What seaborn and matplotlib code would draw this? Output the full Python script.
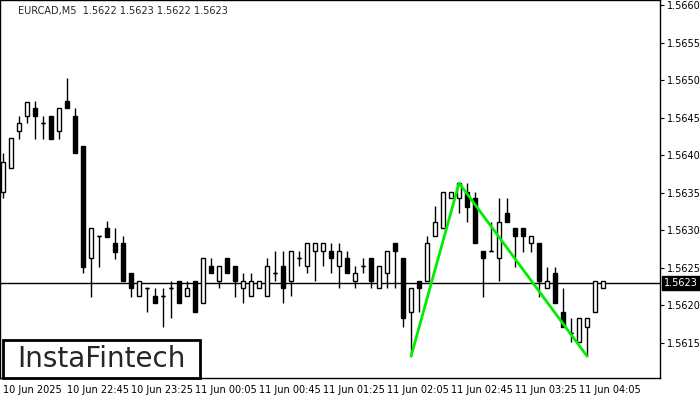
import matplotlib
matplotlib.use("Agg")
import matplotlib.pyplot as plt
import matplotlib.patches as mpatches
import seaborn as sns
import numpy as np
import pandas as pd

opens = [1.56351,1.56383,1.56432,1.56452,1.56463,1.56443,1.56452,1.56432,1.56472,1.56452,
         1.56412,1.56263,1.56292,1.56303,1.56283,1.56283,1.56243,1.56212,1.56223,1.56212,
         1.56212,1.56223,1.56232,1.56212,1.56232,1.56203,1.56252,1.56232,1.56263,1.56252,
         1.56223,1.56212,1.56223,1.56212,1.56243,1.56252,1.56232,1.56263,1.56252,1.56272,
         1.56272,1.56272,1.56252,1.56263,1.56232,1.56252,1.56263,1.56223,1.56243,1.56283,
         1.56263,1.56191,1.56232,1.56232,1.56292,1.56303,1.56343,1.56343,1.56351,1.56343,
         1.56272,1.56272,1.56263,1.56323,1.56303,1.56303,1.56283,1.56283,1.56223,1.56243,
         1.56191,1.56163,1.56151,1.56171,1.56191,1.56223]
highs = [1.56403,1.56423,1.56452,1.56471,1.56472,1.56452,1.56452,1.56463,1.56503,1.56463,
         1.56412,1.56303,1.56292,1.56312,1.56303,1.56292,1.56243,1.56232,1.56223,1.56223,
         1.56223,1.56232,1.56232,1.56232,1.56232,1.56263,1.56263,1.56252,1.56263,1.56252,
         1.56243,1.56243,1.56232,1.56263,1.56272,1.56272,1.56272,1.56272,1.56283,1.56283,
         1.56283,1.56283,1.56283,1.56272,1.56252,1.56263,1.56263,1.56252,1.56272,1.56283,
         1.56263,1.56223,1.56232,1.56292,1.56332,1.56351,1.56351,1.56363,1.56363,1.56351,
         1.56272,1.56311,1.56343,1.56343,1.56303,1.56303,1.56292,1.56283,1.56251,1.56251,
         1.56223,1.56183,1.56183,1.56183,1.56232,1.56232]
lows = [1.56343,1.56383,1.56421,1.56443,1.56421,1.56421,1.56421,1.56421,1.56463,1.56403,
        1.56243,1.56211,1.56251,1.56291,1.56261,1.56232,1.56211,1.56212,1.56191,1.56203,
        1.56171,1.56183,1.56203,1.56212,1.56191,1.56203,1.56243,1.56223,1.56243,1.56211,
        1.56203,1.56212,1.56223,1.56212,1.56232,1.56203,1.56212,1.56252,1.56243,1.56232,
        1.56252,1.56243,1.56223,1.56243,1.56223,1.56243,1.56223,1.56223,1.56223,1.56223,
        1.56171,1.56132,1.56191,1.56232,1.56292,1.56303,1.56343,1.56323,1.56311,1.56283,
        1.56211,1.56272,1.56232,1.56311,1.56251,1.56271,1.56271,1.56211,1.56223,1.56203,
        1.56171,1.56151,1.56151,1.56132,1.56191,1.56223]
closes = [1.56391,1.56423,1.56443,1.56471,1.56452,1.56443,1.56421,1.56463,1.56463,1.56403,
          1.56251,1.56303,1.56292,1.56291,1.56271,1.56232,1.56223,1.56232,1.56223,1.56203,
          1.56212,1.56223,1.56203,1.56223,1.56191,1.56263,1.56243,1.56252,1.56243,1.56232,
          1.56232,1.56232,1.56232,1.56252,1.56243,1.56223,1.56272,1.56263,1.56283,1.56283,
          1.56283,1.56263,1.56272,1.56243,1.56243,1.56252,1.56232,1.56252,1.56272,1.56272,
          1.56183,1.56223,1.56223,1.56283,1.56311,1.56351,1.56351,1.56363,1.56331,1.56283,
          1.56263,1.56272,1.56311,1.56311,1.56292,1.56292,1.56292,1.56232,1.56232,1.56203,
          1.56171,1.56163,1.56183,1.56183,1.56232,1.56232]

x_labels = ["10 Jun 2025", "10 Jun 22:45", "10 Jun 23:25", "11 Jun 00:05", "11 Jun 00:45",
            "11 Jun 01:25", "11 Jun 02:05", "11 Jun 02:45", "11 Jun 03:25", "11 Jun 04:05"]
y_ticks = [1.5615, 1.5620, 1.5625, 1.5630, 1.5635, 1.5640, 1.5645, 1.5650, 1.5655, 1.5660]
pattern_idx = [51, 57, 73]
pattern_val = [1.56132, 1.56363, 1.56132]
current_price = 1.5623

df = pd.DataFrame({"o": opens, "h": highs, "l": lows, "c": closes})
df["i"] = np.arange(len(df))

sns.set_style("white")
plt.rcParams['font.family'] = ['DejaVu Sans']
fig = plt.figure(figsize=(7, 4), dpi=100)
ax = fig.add_axes([0, 0.055, 0.943, 0.945])

ax.vlines(df["i"], df["l"], df["h"], color="black", lw=1, zorder=2)
bottom = np.minimum(df["o"], df["c"])
height = np.abs(df["c"] - df["o"])
height = np.where(height < 1e-6, 0.0, height)
colors = ["black" if c < o else "white" for o, c in zip(df["o"], df["c"])]
ax.bar(df["i"], height, bottom=bottom, width=0.6, color=colors, edgecolor="black", lw=1, zorder=3)
flat = height == 0
ax.hlines(df["o"][flat], df["i"][flat] - 0.3, df["i"][flat] + 0.3, color="black", lw=1, zorder=3)

ax.axhline(current_price, color="black", lw=1, zorder=1)
sns.lineplot(x=pattern_idx, y=pattern_val, ax=ax, color="#00ee00", lw=2, zorder=4, sort=False)

ax.set_xlim(-0.375, 82.125)
ax.set_ylim(1.56103, 1.56607)
ax.yaxis.tick_right()
ax.set_yticks(y_ticks)
ax.set_yticklabels([f"{v:.4f}" for v in y_ticks], fontsize=7)
ax.set_xticks(list(range(0, 80, 8)))
ax.set_xticklabels(x_labels, fontsize=7, ha="left")
ax.tick_params(axis="both", length=3, pad=2, direction="out", colors="black")
for s in ax.spines.values():
    s.set_color("black"); s.set_linewidth(1)

ax.text(1.006, current_price, "1.5623", transform=ax.get_yaxis_transform(),
        fontsize=7, color="white", va="center", ha="left",
        bbox=dict(boxstyle="square,pad=0.2", fc="black", ec="black"), clip_on=False)

ax.text(0.027, 0.985, "EURCAD,M5  1.5622 1.5623 1.5622 1.5623", transform=ax.transAxes,
        fontsize=7, va="top", ha="left")

# logo box: x 3..200 px, y 340..378 px (from top)
fig.patches.append(mpatches.Rectangle((3/700, 22/400), 197/700, 38/400, transform=fig.transFigure,
                                      fc="white", ec="black", lw=2, zorder=10))
fig.text(101/700, 41/400, "InstaFintech", fontsize=20, ha="center", va="center",
         fontweight="medium", zorder=11)

fig.savefig("out.png", dpi=100)
